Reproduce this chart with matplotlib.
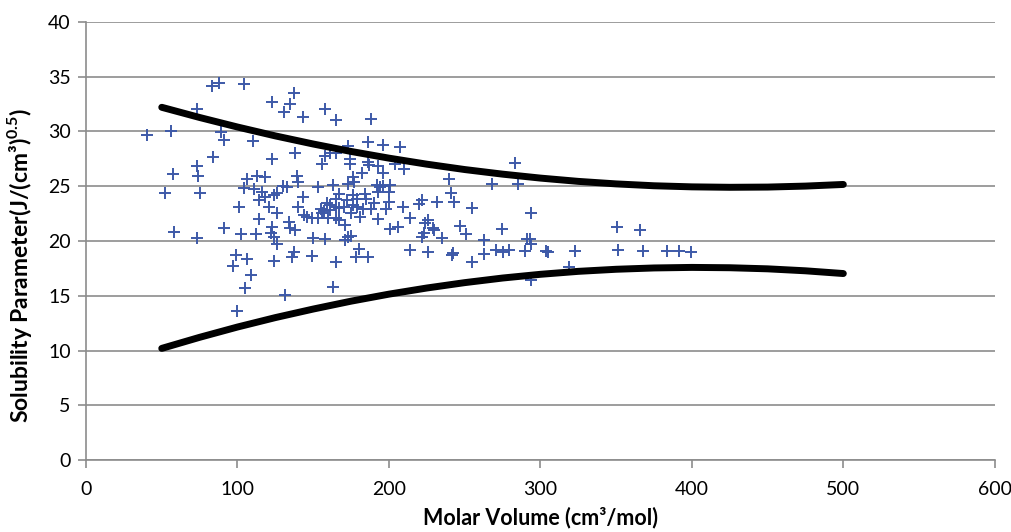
import numpy as np
import matplotlib
matplotlib.use("Agg")
import matplotlib.pyplot as plt

plt.rcParams['font.family'] = ['Lato', 'DejaVu Sans']
plt.rcParams['mathtext.fontset'] = 'custom'
plt.rcParams['mathtext.rm'] = 'Lato'
plt.rcParams['mathtext.bf'] = 'Lato:bold'

# Scatter data: molar volume (cm3/mol) vs solubility parameter
molar_volume = [
    40, 52, 56, 57.5, 58, 73, 73, 74, 75, 73, 83, 88, 84, 89, 91, 91, 97, 99,
    101, 102, 100, 104.5, 106.5, 104, 106, 105, 109, 110, 111, 112, 113, 114,
    114, 116, 118, 118, 121, 123, 123, 123, 122, 124, 124, 126, 126, 126, 124,
    131, 135, 137, 143, 158, 165, 188, 138, 156, 158, 161, 165, 173, 186.5,
    174, 174, 182, 186, 187, 193, 204, 196, 139.5, 140, 130, 133, 153, 163,
    176, 177, 173, 192, 194, 196, 201, 193, 200, 143.5, 167, 165, 176, 184.5,
    185, 200, 172.6, 179, 159, 161, 165, 167, 170, 176, 179, 183, 188, 190,
    198, 140, 155, 156, 157, 161, 144, 146, 149.5, 153, 160, 165, 167, 175,
    181, 192.5, 171, 134, 135, 138, 201, 206, 150, 158, 171, 173, 175, 180.5,
    137, 136, 149, 165, 178, 186.5, 163, 131.6, 283, 210, 239.5, 268, 285,
    241, 243, 222, 220, 231.5, 209, 255, 214, 226, 224, 229, 230, 223, 222,
    247, 251, 274.5, 235, 263, 214, 226, 242, 241.5, 262.5, 270.5, 275, 279,
    254.6, 294, 291, 293, 293.6, 290, 303.6, 305, 323, 319, 294, 350.5, 366,
    351, 367.7, 383.6, 391.5, 399.5, 196.4, 207,
]
solubility = [
    29.7, 24.4, 30.0, 26.1, 20.8, 32.0, 26.8, 25.9, 24.4, 20.3, 34.1, 34.4,
    27.7, 29.9, 29.2, 21.2, 17.7, 18.7, 23.1, 20.6, 13.6, 34.3, 25.7, 24.8,
    18.4, 15.7, 16.9, 29.1, 24.7, 20.6, 25.9, 23.7, 22.0, 24.5, 25.8, 24.0,
    23.1, 27.5, 32.7, 21.3, 20.7, 20.4, 24.2, 24.4, 22.6, 19.7, 18.2, 31.8,
    32.5, 33.5, 31.3, 32.0, 31.0, 31.1, 28.0, 27.0, 27.8, 28.0, 28.0, 28.7,
    29.0, 27.5, 27.0, 26.2, 27.2, 26.9, 26.8, 27.0, 26.2, 25.9, 25.4, 25.0,
    24.9, 24.9, 25.1, 25.8, 25.4, 25.2, 25.1, 24.9, 25.0, 25.1, 24.5, 24.5,
    24.0, 24.3, 23.8, 24.2, 24.3, 23.8, 23.6, 23.7, 23.8, 23.5, 23.3, 23.1,
    23.0, 23.1, 23.3, 23.1, 22.9, 22.9, 23.5, 22.9, 23.1, 22.9, 22.6, 22.7,
    22.8, 22.4, 22.2, 22.1, 22.1, 22.1, 22.1, 21.9, 22.6, 22.2, 22.0, 21.5,
    21.7, 21.2, 21.0, 21.1, 21.3, 20.3, 20.2, 20.1, 20.4, 20.5, 19.3, 19.0,
    18.5, 18.6, 18.1, 18.5, 18.5, 15.8, 15.1, 27.1, 26.6, 25.7, 25.2, 25.2,
    24.4, 23.6, 23.7, 23.4, 23.6, 23.1, 23.0, 22.1, 21.9, 21.6, 21.2, 21.0,
    20.7, 20.4, 21.4, 20.6, 21.1, 20.3, 20.1, 19.2, 19.0, 18.9, 18.7, 18.8,
    19.2, 19.0, 19.2, 18.1, 22.6, 20.2, 20.2, 19.7, 19.1, 19.1, 19.0, 19.1,
    17.6, 16.4, 21.3, 21.0, 19.2, 19.1, 19.1, 19.1, 19.0, 28.8, 28.6,
]

# Boundary curves
curve_x = [50, 75, 100, 125, 150, 175, 200, 225, 250, 275, 300, 325, 350,
           375, 400, 425, 450, 475, 500]
upper_y = [32.20, 31.27, 30.40, 29.59, 28.85, 28.17, 27.56, 27.01, 26.52,
           26.10, 25.74, 25.44, 25.21, 25.04, 24.94, 24.90, 24.92, 25.01, 25.16]
lower_y = [10.20, 11.21, 12.15, 13.01, 13.79, 14.51, 15.15, 15.71, 16.20,
           16.62, 16.96, 17.23, 17.42, 17.54, 17.59, 17.56, 17.46, 17.28, 17.03]

fig = plt.figure(figsize=(10.12, 5.32), dpi=100)
ax = fig.add_axes([0.085, 0.135, 0.898, 0.824])

grid_col = '#8c8c8c'
ax.set_xlim(0, 600)
ax.set_ylim(0, 40)
ax.set_xticks(range(0, 601, 100))
ax.set_yticks(range(0, 41, 5))
ax.yaxis.grid(True, color=grid_col, linewidth=1.2)
ax.set_axisbelow(True)
for s in ['top', 'right']:
    ax.spines[s].set_visible(False)
for s in ['left', 'bottom']:
    ax.spines[s].set_color(grid_col)
    ax.spines[s].set_linewidth(1.2)
ax.tick_params(axis='both', colors=grid_col, length=6, width=1.2,
               labelsize=14, labelcolor='black', pad=5)
ax.tick_params(axis='x', pad=9)

ax.scatter(molar_volume, solubility, marker='+', s=64, color='#3d59a8',
           linewidths=1.4, zorder=3)
ax.plot(curve_x, upper_y, color='black', linewidth=5, solid_capstyle='round',
        zorder=4)
ax.plot(curve_x, lower_y, color='black', linewidth=5, solid_capstyle='round',
        zorder=4)

ax.set_xlabel('Molar Volume (cm³/mol)', fontsize=15.5, fontweight='bold',
              labelpad=6)
ax.set_ylabel(r'Solubility Parameter(J/(cm³)$^{\mathbf{0.5}}$)', fontsize=16.5,
              fontweight='bold')
ax.yaxis.set_label_coords(-0.057, 0.445)

fig.savefig('out.png', dpi=100)
